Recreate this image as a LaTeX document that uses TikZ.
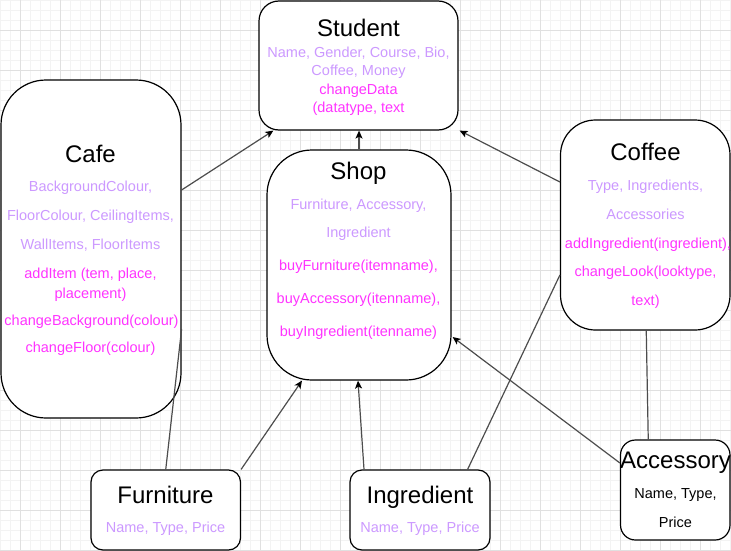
\documentclass[tikz,border=0pt]{standalone}
\usepackage{fontspec}
\setmainfont{Liberation Sans}
\usetikzlibrary{arrows.meta}
\definecolor{attr}{HTML}{CC99FF}
\definecolor{meth}{HTML}{FF33FF}
\definecolor{conn}{HTML}{4D4D4D}
\definecolor{gminor}{HTML}{F3F3F3}
\definecolor{gmajor}{HTML}{E0E0E0}
\newcommand\mytl[5]{\node[#1] (#2) at (#3,#4) {#5};}
\begin{document}
\begin{tikzpicture}[x=1pt,y=-1pt,
  box/.style={draw=black, line width=1.2pt, fill=white, inner sep=0pt},
  titletext/.style={font=\fontsize{24}{28}\selectfont, anchor=base, inner sep=0pt},
  attrtext/.style={font=\fontsize{14.5}{17}\selectfont, text=attr, anchor=base, inner sep=0pt},
  methtext/.style={font=\fontsize{14.5}{17}\selectfont, text=meth, anchor=base, inner sep=0pt},
  plaintext/.style={font=\fontsize{14.5}{17}\selectfont, text=black, anchor=base, inner sep=0pt},
  link/.style={draw=conn, line width=1.2pt},
  arrowlink/.style={link, -{Stealth[length=8pt,width=7pt,inset=2pt,color=black]}},
  minorline/.style={draw=gminor, line width=1pt},
  majorline/.style={draw=gmajor, line width=1pt}
]
\useasboundingbox (0,0) rectangle (731,551);
\fill[white] (0,0) rectangle (731,551);
% grid
\foreach \k in {0,...,73} {\draw[minorline] (\k*10+0.5,0) -- (\k*10+0.5,551);}
\foreach \k in {0,...,55} {\draw[minorline] (0,\k*10+0.5) -- (731,\k*10+0.5);}
\foreach \k in {0,...,17} {\draw[majorline] (\k*40+20.5,0) -- (\k*40+20.5,551);}
\foreach \k in {0,...,13} {\draw[majorline] (0,\k*40+30.5) -- (731,\k*40+30.5);}

% boxes
\node[box, rounded corners=20pt, minimum width=199pt, minimum height=129pt] (student) at (358.5,65.5) {};
\node[box, rounded corners=45pt, minimum width=180pt, minimum height=338pt] (cafe) at (91,249) {};
\node[box, rounded corners=45pt, minimum width=184pt, minimum height=230pt] (shop) at (359,265) {};
\node[box, rounded corners=35pt, minimum width=169.5pt, minimum height=210pt] (coffee) at (645.25,225) {};
\node[box, rounded corners=15pt, minimum width=109.5pt, minimum height=100pt] (accessory) at (675.25,490) {};
\node[box, rounded corners=12pt, minimum width=149.5pt, minimum height=80pt] (furniture) at (165.75,510) {};
\node[box, rounded corners=12pt, minimum width=140pt, minimum height=80pt] (ingredient) at (420,510) {};

% Student text
\mytl{titletext}{st0}{358.5}{36.7}{Student}
\mytl{attrtext}{st1}{358.5}{57.3}{Name, Gender, Course, Bio,}
\mytl{attrtext}{st2}{358.5}{75.8}{Coffee, Money}
\mytl{methtext}{st3}{358.5}{94.2}{changeData}
\mytl{methtext}{st4}{358.5}{112.3}{(datatype, text}

% Cafe text
\mytl{titletext}{ca0}{90.5}{162.7}{Cafe}
\mytl{attrtext}{ca1}{90.5}{191.7}{BackgroundColour,}
\mytl{attrtext}{ca2}{90.5}{220.7}{FloorColour, CeilingItems,}
\mytl{attrtext}{ca3}{90.5}{249}{WallItems, FloorItems}
\mytl{methtext}{ca4}{90.5}{278.3}{addItem (tem, place,}
\mytl{methtext}{ca5}{90.5}{298.3}{placement)}
\mytl{methtext}{ca6}{91.5}{325}{changeBackground(colour)}
\mytl{methtext}{ca7}{90.5}{352.7}{changeFloor(colour)}

% Shop text
\mytl{titletext}{sh0}{358.5}{179.3}{Shop}
\mytl{attrtext}{sh1}{358.5}{209}{Furniture, Accessory,}
\mytl{attrtext}{sh2}{358.5}{237.3}{Ingredient}
\mytl{methtext}{sh3}{358.5}{270.7}{buyFurniture(itemname),}
\mytl{methtext}{sh4}{358.5}{303.3}{buyAccessory(itenname),}
\mytl{methtext}{sh5}{358.5}{336}{buyIngredient(itenname)}

% Coffee text
\mytl{titletext}{co0}{645.5}{160.7}{Coffee}
\mytl{attrtext}{co1}{645.5}{190}{Type, Ingredients,}
\mytl{attrtext}{co2}{645.5}{219.3}{Accessories}
\mytl{methtext}{co3}{648}{248.3}{addIngredient(ingredient),}
\mytl{methtext}{co4}{645.5}{276.7}{changeLook(looktype,}
\mytl{methtext}{co5}{645.5}{305}{text)}

% Accessory text
\mytl{titletext}{ac0}{675.5}{468.3}{Accessory}
\mytl{plaintext}{ac1}{675.5}{498.3}{Name, Type,}
\mytl{plaintext}{ac2}{675.5}{527.3}{Price}

% Furniture text
\mytl{titletext}{fu0}{165.5}{503.3}{Furniture}
\mytl{attrtext}{fu1}{165.5}{532.7}{Name, Type, Price}

% Ingredient text
\mytl{titletext}{in0}{420}{503.3}{Ingredient}
\mytl{attrtext}{in1}{420}{532.7}{Name, Type, Price}

% connectors
\draw[arrowlink] ([yshift=59pt]cafe.east) -- ([xshift=15pt]student.south west);
\draw[arrowlink] (shop.north) -- (shop.north |- student.south);
\draw[arrowlink] ([yshift=43pt]coffee.west) -- ([xshift=1pt]student.south east);
\draw[arrowlink] (furniture.north east) -- ([xshift=-57pt]shop.south);
\draw[arrowlink] ([xshift=-56pt]ingredient.north) -- ([xshift=-1pt]shop.south);
\draw[arrowlink] ([yshift=27pt]accessory.west) -- ([yshift=-72pt,xshift=1pt]shop.east);
\draw[link] (furniture.north) -- ([yshift=-80pt]cafe.east);
\draw[link] ([xshift=-23pt]ingredient.north east) -- ([yshift=-50pt]coffee.west);
\draw[link] ([xshift=-27pt]accessory.north) -- ([xshift=1pt]coffee.south);
\end{tikzpicture}
\end{document}
